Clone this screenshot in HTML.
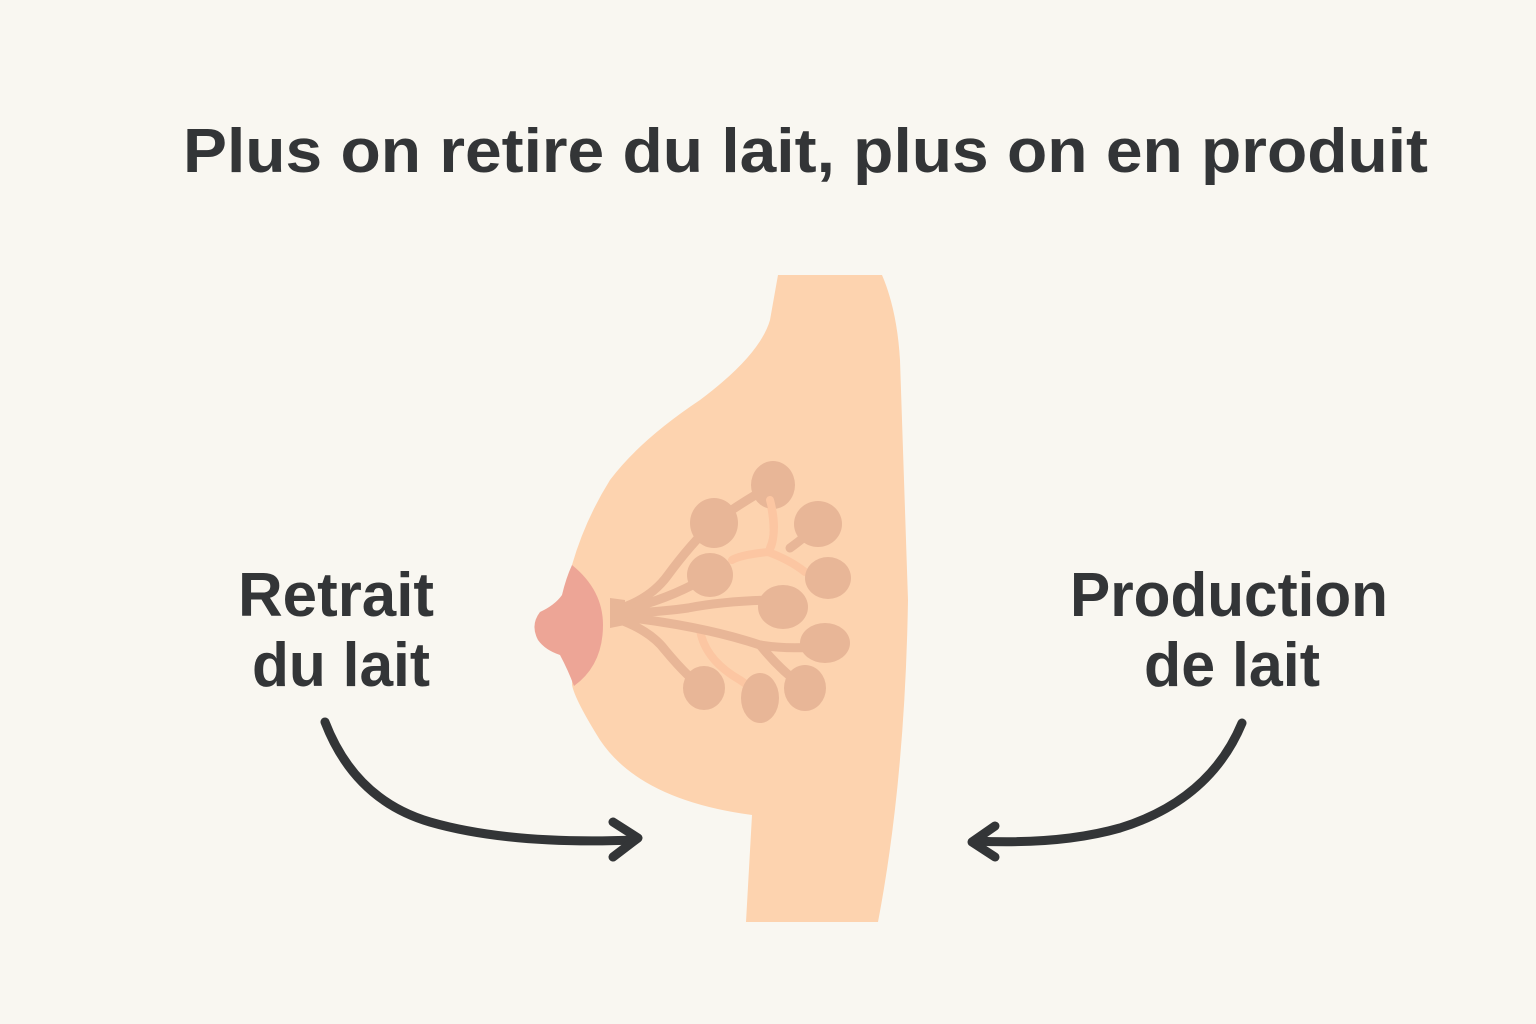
<!DOCTYPE html>
<html><head><meta charset="utf-8"><style>
html,body{margin:0;padding:0;background:#f9f7f1;}
svg{display:block}
text{font-family:"Liberation Sans",sans-serif;fill:#333537;font-weight:bold}
</style></head><body>
<svg width="1536" height="1024" viewBox="0 0 1536 1024" xmlns="http://www.w3.org/2000/svg">
<rect width="1536" height="1024" fill="#f9f7f1"/>
<text x="183" y="172" font-size="62" textLength="1245" lengthAdjust="spacingAndGlyphs">Plus on retire du lait, plus on en produit</text>
<text x="238" y="616" font-size="62" textLength="196" lengthAdjust="spacingAndGlyphs">Retrait</text>
<text x="252" y="686" font-size="62" textLength="178" lengthAdjust="spacingAndGlyphs">du lait</text>
<text x="1070" y="616" font-size="62" textLength="318" lengthAdjust="spacingAndGlyphs">Production</text>
<text x="1144" y="686" font-size="62" textLength="176" lengthAdjust="spacingAndGlyphs">de lait</text>
<!-- breast -->
<path d="M778,275 L882,275 Q897,310 900,360 L908,600 Q905,780 878,922 L746,922 L752,815 Q640,800 600,740 Q575,700 572,685 L572,565 Q585,520 610,480 Q640,440 700,400 Q760,355 770,320 Z" fill="#fdd3af"/>
<!-- areola -->
<path d="M572,565 Q603,590 603,625 Q603,665 574,686 Q568,670 560,655 Q545,650 538,640 Q530,625 540,612 Q555,605 562,595 Q566,578 572,565 Z" fill="#eda596"/>
<!-- ducts light -->
<g fill="none" stroke="#fcc6a2" stroke-width="8" stroke-linecap="round">
<path d="M770,500 Q778,540 768,552 Q740,555 732,560"/>
<path d="M768,552 Q790,560 805,572"/>
<path d="M700,630 Q705,660 740,680 Q755,690 760,698"/>
</g>
<g fill="none" stroke="#e8b697" stroke-width="9" stroke-linecap="round">
<path d="M615,610 Q650,600 668,575 Q690,545 713,523"/>
<path d="M713,523 Q745,500 773,485"/>
<path d="M615,612 Q670,600 710,575"/>
<path d="M615,614 Q660,612 688,608 Q730,600 783,600"/>
<path d="M615,616 Q700,625 760,645 Q790,650 825,646"/>
<path d="M615,618 Q650,630 665,650 Q690,680 704,688"/>
<path d="M760,645 Q780,670 805,688"/>
<path d="M790,548 Q808,535 818,524"/>
</g>
<path d="M610,598 L625,600 L625,625 L610,628 Z" fill="#e8b697"/>
<g fill="#e8b697">
<ellipse cx="773" cy="485" rx="22" ry="24"/>
<ellipse cx="714" cy="523" rx="24" ry="25"/>
<ellipse cx="818" cy="524" rx="24" ry="23"/>
<ellipse cx="828" cy="578" rx="23" ry="21"/>
<ellipse cx="710" cy="575" rx="23" ry="22"/>
<ellipse cx="783" cy="607" rx="25" ry="22"/>
<ellipse cx="825" cy="643" rx="25" ry="20"/>
<ellipse cx="704" cy="688" rx="21" ry="22"/>
<ellipse cx="760" cy="698" rx="19" ry="25"/>
<ellipse cx="805" cy="688" rx="21" ry="23"/>
</g>
<path d="M770,500 Q778,530 770,548" fill="none" stroke="#fcc6a2" stroke-width="8" stroke-linecap="round"/>
<!-- arrows -->
<g fill="none" stroke="#333537" stroke-width="9" stroke-linecap="round" stroke-linejoin="round">
<path d="M325,722 Q355,800 430,822 Q510,845 635,840"/>
<path d="M613,822 L638,838 L613,857"/>
<path d="M1242,723 Q1210,800 1120,828 Q1060,845 975,841"/>
<path d="M995,826 L972,842 L995,857"/>
</g>
</svg>
</body></html>
